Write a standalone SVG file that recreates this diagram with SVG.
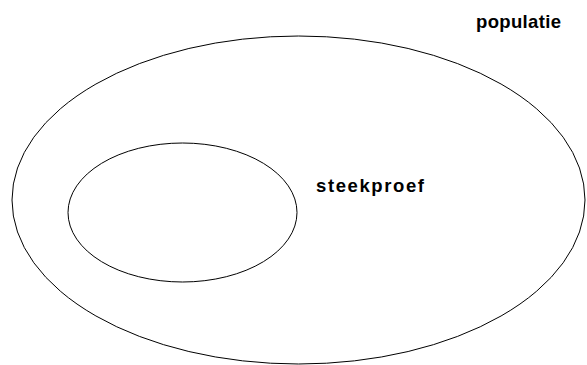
<svg xmlns="http://www.w3.org/2000/svg" width="587" height="365" viewBox="0 0 587 365">
  <style>
    .set { fill: none; stroke: #000; stroke-width: 1; }
    .lbl { font-family: "Liberation Sans", Arial, sans-serif; font-weight: bold; font-size: 18.5px; fill: #000; }
  </style>
  <rect width="587" height="365" fill="#fff"/>
  <g id="populatie">
    <ellipse class="set" cx="298.5" cy="200" rx="286.5" ry="164"/>
    <text class="lbl" x="476" y="28" textLength="85" lengthAdjust="spacing">populatie</text>
  </g>
  <g id="steekproef">
    <ellipse class="set" cx="182.5" cy="212.5" rx="114.5" ry="69.5"/>
    <text class="lbl" x="316" y="192" textLength="108" lengthAdjust="spacing">steekproef</text>
  </g>
  <g id="connectors"/>
</svg>
